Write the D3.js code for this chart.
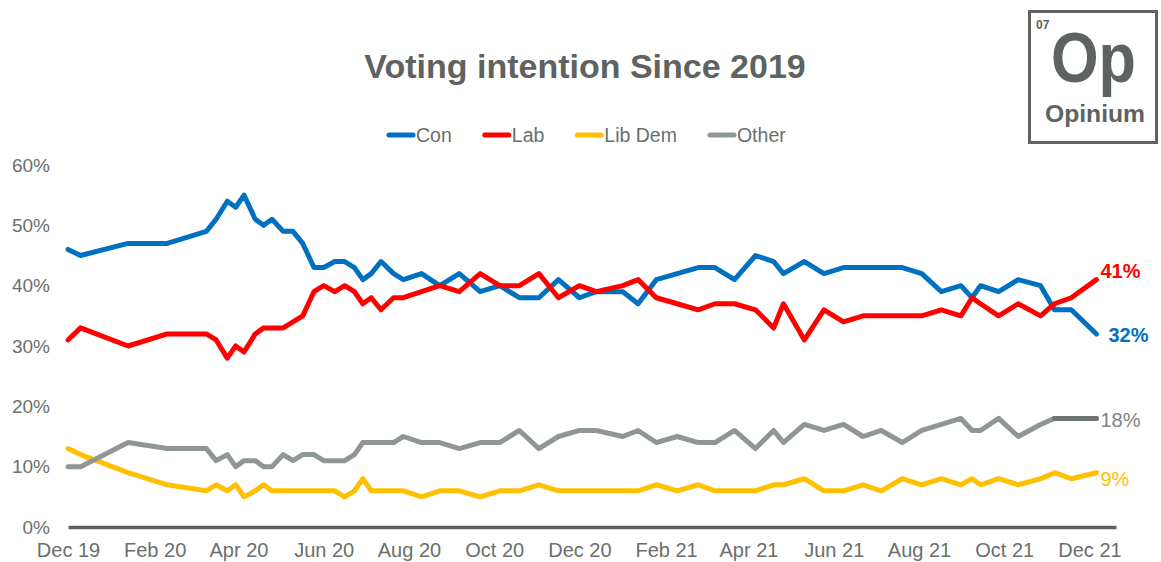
<!DOCTYPE html>
<html><head><meta charset="utf-8">
<script src="https://cdn.jsdelivr.net/npm/d3@7"></script>
<style>body{margin:0;background:#fff;} svg{display:block;}</style>
</head><body>
<svg id="chart" width="1161" height="562"></svg>
<script>
// ---- Data ----
const pollDates = [
  "2019-12-01","2019-12-10","2020-01-13","2020-02-10","2020-03-09","2020-03-16","2020-03-24","2020-03-30",
  "2020-04-05","2020-04-13","2020-04-19","2020-04-25","2020-05-03","2020-05-10","2020-05-17","2020-05-25",
  "2020-06-01","2020-06-09","2020-06-16","2020-06-23","2020-06-29","2020-07-05","2020-07-12","2020-07-21",
  "2020-07-28","2020-08-10","2020-08-23","2020-09-06","2020-09-21","2020-10-05","2020-10-19","2020-11-02",
  "2020-11-16","2020-12-01","2020-12-13","2021-01-01","2021-01-12","2021-01-25","2021-02-09","2021-02-24",
  "2021-03-08","2021-03-22","2021-04-06","2021-04-19","2021-04-26","2021-05-11","2021-05-25","2021-06-08",
  "2021-06-22","2021-07-05","2021-07-20","2021-08-03","2021-08-17","2021-08-31","2021-09-08","2021-09-14",
  "2021-09-27","2021-10-11","2021-10-27","2021-11-06","2021-11-18","2021-12-06"
];
const con = [46,45,47,47,49,51,54,53,55,51,50,51,49,49,47,43,43,44,44,43,41,42,44,42,41,42,40,42,39,40,38,38,41,38,
  39,39,37,41,42,43,43,41,45,44,42,44,42,43,43,43,43,42,39,40,38,40,39,41,40,36,36,32];
const lab = [31,33,30,32,32,31,28,30,29,32,33,33,33,34,35,39,40,39,40,39,37,38,36,38,38,39,40,39,42,40,40,42,38,40,
  39,40,41,38,37,36,37,37,36,33,37,31,36,34,35,35,35,35,36,35,38,37,35,37,35,37,38,41];
const libDem = [13,12,9,7,6,7,6,7,5,6,7,6,6,6,6,6,6,6,5,6,8,6,6,6,6,5,6,6,5,6,6,7,6,6,
  6,6,6,7,6,7,6,6,6,7,7,8,6,6,7,6,8,7,8,7,8,7,8,7,8,9,8,9];
const other = [10,10,14,13,13,11,12,10,11,11,10,10,12,11,12,12,11,11,11,12,14,14,14,14,15,14,14,13,14,14,16,13,15,16,
  16,15,16,14,15,14,14,16,13,16,14,17,16,17,15,16,14,16,17,18,16,16,18,15,17,18,18,18];
const seriesNames = ["Con","Lab","Lib Dem","Other"];
const yTicks = [0,10,20,30,40,50,60];
const xTickDates = ["2019-12-01","2020-02-01","2020-04-01","2020-06-01","2020-08-01","2020-10-01","2020-12-01",
  "2021-02-01","2021-04-01","2021-06-01","2021-08-01","2021-10-01","2021-12-01"];
const xTickLabels = ["Dec 19","Feb 20","Apr 20","Jun 20","Aug 20","Oct 20","Dec 20","Feb 21","Apr 21","Jun 21","Aug 21","Oct 21","Dec 21"];
const axisStart = "2019-12-01", axisEnd = "2021-12-20";

// ---- Styles ----
const colors = {"Con":"#0070C0","Lab":"#FF0000","Lib Dem":"#FFC000","Other":"#8F9791"};
const otherLastColor = "#6E7470";
const textGray = "#6B6F6C";
const darkGray = "#5E6360";
const font = "'Liberation Sans', Arial, sans-serif";

const parse = d3.utcParse("%Y-%m-%d");
const dates = pollDates.map(parse);
const seriesValues = {"Con":con,"Lab":lab,"Lib Dem":libDem,"Other":other};

const svg = d3.select("#chart");
const x = d3.scaleUtc().domain([parse(axisStart), parse(axisEnd)]).range([68, 1116]);
const y = d3.scaleLinear().domain([0, 60]).range([527, 165]);

// Title
svg.append("text").attr("x", 585).attr("y", 78).attr("text-anchor","middle")
  .attr("font-family", font).attr("font-weight","bold")
  .attr("font-size", 34).attr("fill", darkGray).text("Voting intention Since 2019");

// Legend
let lx = 387;
const legend = svg.append("g");
seriesNames.forEach(name => {
  legend.append("line").attr("x1", lx + 2).attr("x2", lx + 26).attr("y1", 135).attr("y2", 135)
    .attr("stroke", colors[name]).attr("stroke-width", 5).attr("stroke-linecap","round");
  const t = legend.append("text").attr("x", lx + 29).attr("y", 142)
    .attr("font-family", font).attr("font-size", 19.5).attr("fill", textGray).text(name);
  lx = lx + 29 + t.node().getComputedTextLength() + 31;
});

// Y axis
const yAxis = svg.append("g").attr("transform","translate(68,0)")
  .call(d3.axisLeft(y).tickValues(yTicks).tickFormat(d => d + "%").tickSize(0).tickPadding(18));
yAxis.select(".domain").remove();
yAxis.selectAll("text").attr("font-family", font).attr("font-size", 19).attr("fill", textGray);

// X axis
const xAxis = svg.append("g").attr("transform", `translate(0,${y(0)})`)
  .call(d3.axisBottom(x).tickValues(xTickDates.map(parse)).tickFormat((d,i) => xTickLabels[i]).tickSize(0).tickPadding(16));
xAxis.select(".domain").attr("stroke", darkGray).attr("stroke-width", 3.5);
xAxis.selectAll("text").attr("font-family", font).attr("font-size", 20).attr("fill", textGray);

// Lines (series order as in the source: later series on top)
const line = d3.line().x(d => x(d.date)).y(d => y(d.value));
seriesNames.forEach(name => {
  const pts = dates.map((dt,i) => ({date: dt, value: seriesValues[name][i]}));
  svg.append("path").datum(pts).attr("d", line).attr("fill","none")
    .attr("stroke", colors[name]).attr("stroke-width", 5)
    .attr("stroke-linejoin","round").attr("stroke-linecap","round");
  if (name === "Other") {
    svg.append("path").datum(pts.slice(-3)).attr("d", line).attr("fill","none")
      .attr("stroke", otherLastColor).attr("stroke-width", 5)
      .attr("stroke-linejoin","round").attr("stroke-linecap","round");
  }
});

// End labels
const endLabelStyle = {
  "Con": {dx: 12, dy: 8, weight: "bold", color: "#0070C0"},
  "Lab": {dx: 4, dy: -2, weight: "bold", color: "#FF0000"},
  "Lib Dem": {dx: 4, dy: 13, weight: "normal", color: "#FFC000"},
  "Other": {dx: 4, dy: 9, weight: "normal", color: "#7D837F"}
};
seriesNames.forEach(name => {
  const vals = seriesValues[name];
  const last = vals[vals.length - 1];
  const st = endLabelStyle[name];
  svg.append("text").attr("x", x(dates[dates.length-1]) + st.dx).attr("y", y(last) + st.dy)
    .attr("font-family", font).attr("font-weight", st.weight).attr("font-size", 20)
    .attr("fill", st.color).text(last + "%");
});

// Logo
const logo = svg.append("g");
logo.append("rect").attr("x", 1029.5).attr("y", 11.5).attr("width", 127).attr("height", 131)
  .attr("fill","#fff").attr("stroke", darkGray).attr("stroke-width", 3);
logo.append("text").attr("x", 1036).attr("y", 29).attr("font-family", font).attr("font-weight","bold")
  .attr("font-size", 12).attr("fill", darkGray).text("07");
logo.append("text").attr("x", 1051).attr("y", 82).attr("font-family", font).attr("font-weight","bold")
  .attr("font-size", 70).attr("fill", darkGray).attr("textLength", 85).attr("lengthAdjust","spacingAndGlyphs").text("Op");
logo.append("text").attr("x", 1045).attr("y", 122).attr("font-family", font).attr("font-weight","bold")
  .attr("font-size", 23).attr("fill", darkGray).attr("textLength", 100).attr("lengthAdjust","spacingAndGlyphs").text("Opinium");
</script>
</body></html>
